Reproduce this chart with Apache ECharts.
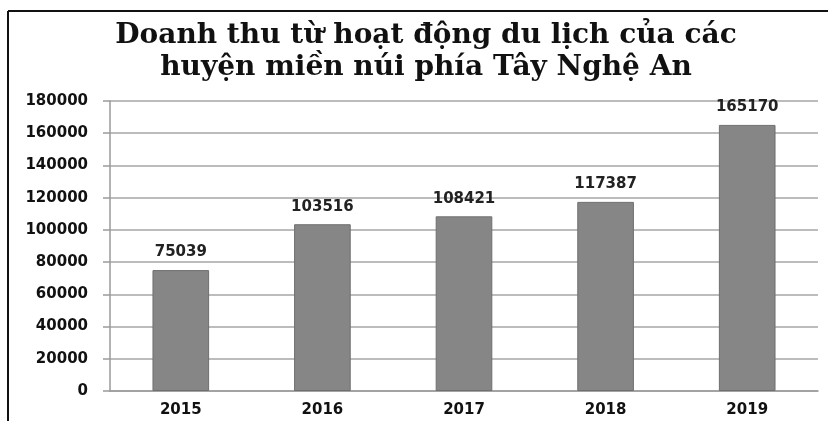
<!DOCTYPE html>
<html>
<head>
<meta charset="utf-8">
<script src="https://cdn.jsdelivr.net/npm/echarts@6/dist/echarts.min.js"></script>
<style>
  html, body { margin: 0; padding: 0; background: #fff; }
  #chart { width: 828px; height: 421px; }
</style>
</head>
<body>
<div id="chart"></div>
<script>
// số liệu
var years = ['2015', '2016', '2017', '2018', '2019'];
var revenue = [75039, 103516, 108421, 117387, 165170];
var titleLines = ['Doanh thu từ hoạt động du lịch của các', 'huyện miền núi phía Tây Nghệ An'];

var chart = echarts.init(document.getElementById('chart'));
var sans = 'DejaVu Sans';

chart.setOption({
    backgroundColor: '#fff',
    animation: false,
    title: {
        text: titleLines.join('\n'),
        left: 421,
        textAlign: 'center',
        top: 15,
        textStyle: {
            fontFamily: 'DejaVu Serif',
            fontWeight: 'bold',
            fontSize: 28,
            lineHeight: 32,
            color: '#111'
        }
    },
    // khung viền đen quanh biểu đồ
    graphic: [
        { type: 'line', shape: { x1: 8, y1: 11, x2: 828, y2: 11 }, style: { stroke: '#111', lineWidth: 2 } },
        { type: 'line', shape: { x1: 8, y1: 11, x2: 8, y2: 421 }, style: { stroke: '#111', lineWidth: 2 } }
    ],
    grid: { left: 110, right: 10, top: 101, bottom: 30 },
    xAxis: {
        type: 'category',
        data: years,
        axisLine: { lineStyle: { color: '#9a9a9a', width: 1.5 } },
        axisTick: { length: 5, lineStyle: { color: '#9a9a9a' } },
        axisLabel: {
            margin: 12,
            fontFamily: sans,
            fontWeight: 'bold',
            fontSize: 15,
            color: '#111'
        }
    },
    yAxis: {
        type: 'value',
        min: 0,
        max: 180000,
        interval: 20000,
        axisLine: { show: true, lineStyle: { color: '#9a9a9a', width: 1.5 } },
        axisTick: { show: true, length: 7, lineStyle: { color: '#9a9a9a', width: 1.5 } },
        splitLine: { lineStyle: { color: '#a6a6a6', width: 1.5 } },
        axisLabel: {
            margin: 22,
            fontFamily: sans,
            fontWeight: 'bold',
            fontSize: 15,
            color: '#111',
            formatter: function (v) { return String(v); }
        }
    },
    series: [{
        type: 'bar',
        data: revenue,
        barWidth: '40%',
        itemStyle: { color: '#868686', borderColor: '#6f6f6f', borderWidth: 1 },
        label: {
            show: true,
            position: 'top',
            distance: 10,
            fontFamily: sans,
            fontWeight: 'bold',
            fontSize: 15,
            color: '#222'
        }
    }]
});
</script>
</body>
</html>
